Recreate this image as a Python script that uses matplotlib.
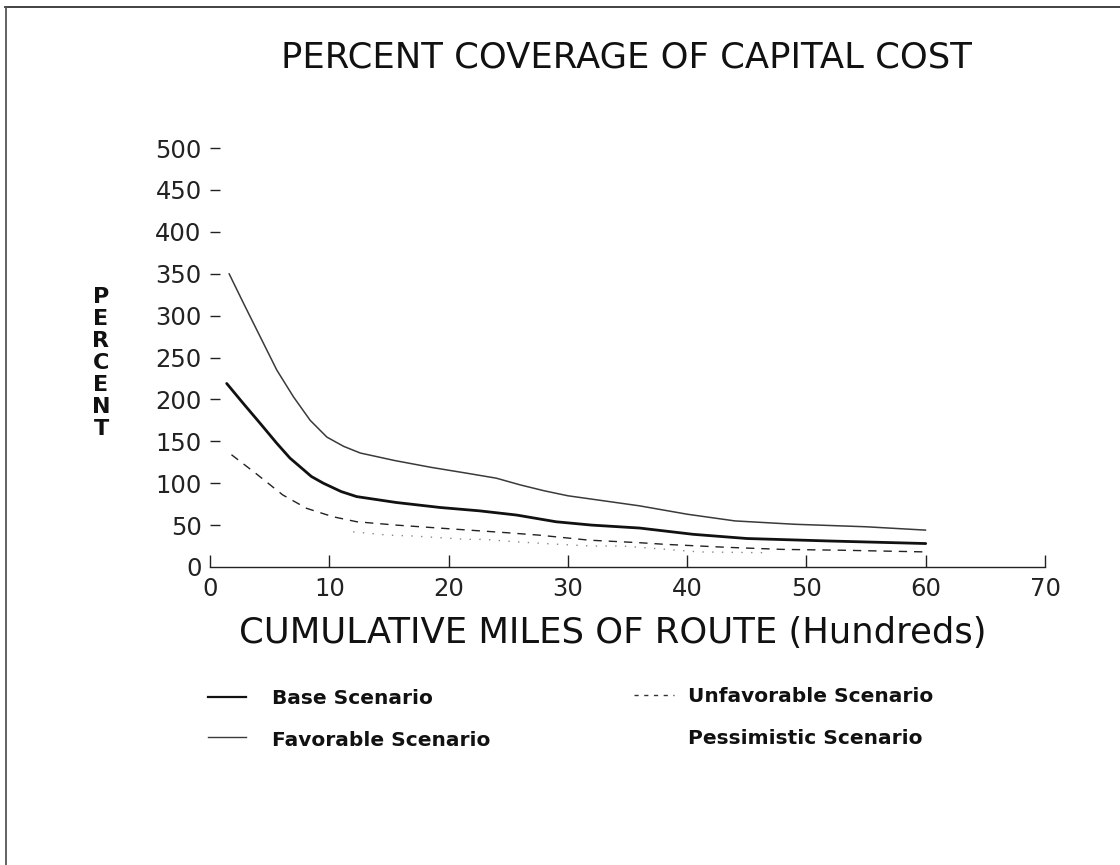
import matplotlib
matplotlib.use("Agg")
import matplotlib.pyplot as plt
from matplotlib.lines import Line2D

# ---- data ----
fav_x = [1.6, 2.8, 4.2, 5.6, 7.0, 8.4, 9.8, 11.2, 12.6, 15.5, 18.5, 21.5, 24.0, 26.0, 28.0, 30.0, 33.0, 36.0, 40.0, 44.0, 49.0, 55.0, 60.0]
fav_y = [350, 315, 275, 235, 203, 175, 155, 144, 136, 127, 119, 112, 106, 98, 91, 85, 79, 73, 63, 55, 51, 48, 44]

base_x = [1.4, 2.8, 4.2, 5.6, 6.7, 7.6, 8.5, 9.5, 11.0, 12.3, 15.6, 19.3, 22.6, 25.7, 29.0, 32.0, 36.0, 40.5, 45.0, 52.0, 60.0]
base_y = [219, 195, 171.5, 147.6, 130, 119, 108, 100, 90, 84, 77, 71, 67, 62, 54, 50, 46.5, 39, 34, 31, 28]

unf_x = [1.8, 3.9, 6.1, 8.1, 10.3, 12.3, 15.6, 20.7, 24.8, 27.6, 31.8, 36.0, 38.2, 43.3, 48.0, 53.0, 60.0]
unf_y = [134, 111, 86, 70, 60, 54, 50, 45, 41, 38, 32, 29, 27, 23.5, 21, 20, 18]

pes_x = [12.0, 15.0, 17.0, 21.5, 23.0, 25.7, 29.3, 32.0, 34.6, 36.0, 41.0, 46.6]
pes_y = [42, 38, 37, 33, 33, 30, 27, 25, 25, 23.5, 18, 17]

x_ticks = [0, 10, 20, 30, 40, 50, 60, 70]
y_ticks = [0, 50, 100, 150, 200, 250, 300, 350, 400, 450, 500]

title = "PERCENT COVERAGE OF CAPITAL COST"
xlabel = "CUMULATIVE MILES OF ROUTE (Hundreds)"
ylabel = "PERCENT"
labels = ["Base Scenario", "Favorable Scenario", "Unfavorable Scenario", "Pessimistic Scenario"]

W, H = 1120, 865
fig = plt.figure(figsize=(W / 100, H / 100), dpi=100)
fig.patch.set_facecolor("white")

def fx(px):
    return px / W

def fy(py):
    return 1 - py / H

# page border (top and left)
fig.add_artist(Line2D([fx(5), fx(1120)], [fy(7), fy(7)], color="#333333", lw=1.3))
fig.add_artist(Line2D([fx(6), fx(6)], [fy(7), fy(865)], color="#555555", lw=1.3))

ax = fig.add_axes([fx(210), fy(567), fx(1045) - fx(210), fy(148) - fy(567)])
ax.set_xlim(0, 70)
ax.set_ylim(0, 500)
for s in ["left", "right", "top"]:
    ax.spines[s].set_visible(False)
ax.spines["bottom"].set_color("#222222")
ax.spines["bottom"].set_linewidth(1.0)

ax.plot(fav_x, fav_y, color="#3a3a3a", lw=1.1, solid_capstyle="round", solid_joinstyle="round")
ax.plot(base_x, base_y, color="#111111", lw=2.0, solid_capstyle="round", solid_joinstyle="round")
ax.plot(unf_x, unf_y, color="#222222", lw=1.0, linestyle=(0, (6, 5)))
ax.plot(pes_x, pes_y, color="#888888", lw=1.0, linestyle=(0, (1, 6)))

tickfont = dict(family="DejaVu Sans", size=17.5)
ax.set_xticks(x_ticks)
ax.set_xticklabels([str(v) for v in x_ticks], **tickfont)
ax.set_yticks(y_ticks)
ax.set_yticklabels([str(v) for v in y_ticks], **tickfont)
ax.tick_params(axis="x", direction="in", length=9, width=1.0, pad=7, colors="#222222")
ax.tick_params(axis="y", direction="in", length=7, width=1.0, pad=6, colors="#222222")
ax.yaxis.get_major_ticks()[0].tick1line.set_visible(False)

# titles
fig.text(fx(626), fy(57), title, ha="center", va="center", fontsize=25.5,
         family="DejaVu Sans", color="#111111")
fig.text(fx(613), fy(633), xlabel, ha="center", va="center", fontsize=25.5,
         family="DejaVu Sans", color="#111111")
fig.text(fx(101), fy(363), "\n".join(ylabel), ha="center", va="center", fontsize=16,
         family="DejaVu Sans", weight="bold", linespacing=1.12, color="#111111")

# legend
legfont = dict(fontsize=14.5, family="DejaVu Sans", weight="bold", color="#111111", va="center", ha="left")
fig.add_artist(Line2D([fx(208), fx(246)], [fy(697), fy(697)], color="#111111", lw=1.6))
fig.text(fx(272), fy(698), labels[0], **legfont)
fig.add_artist(Line2D([fx(208), fx(246)], [fy(737), fy(737)], color="#3a3a3a", lw=1.0))
fig.text(fx(272), fy(740), labels[1], **legfont)
fig.add_artist(Line2D([fx(634), fx(674)], [fy(695), fy(695)], color="#333333", lw=1.0, linestyle=(0, (3, 4))))
fig.text(fx(688), fy(697), labels[2], **legfont)
fig.text(fx(688), fy(738), labels[3], **legfont)

fig.savefig("out.png", dpi=100, facecolor="white")
